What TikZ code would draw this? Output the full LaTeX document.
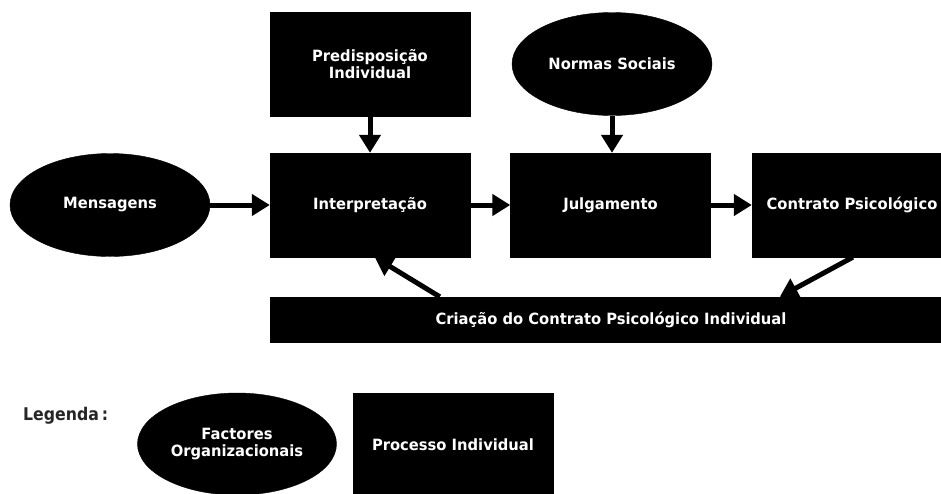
\documentclass[tikz,border=0pt]{standalone}
\usepackage{fontspec}
\setmainfont{DejaVu Sans}[FakeStretch=0.95]
\newfontfamily\legendfont{DejaVu Sans}[FakeStretch=0.9]
\usetikzlibrary{arrows.meta,shapes.geometric,calc}
\begin{document}
\begin{tikzpicture}[x=1pt,y=-1pt,
  lbl/.style={text=white,font=\bfseries\fontsize{15.5}{17}\selectfont,align=center},
  procbox/.style={lbl,rectangle,fill=black,draw=black,inner sep=0pt,minimum width=200pt,minimum height=104pt},
  factor/.style={lbl,ellipse,fill=black,draw=black,inner sep=0pt,minimum width=200pt,minimum height=103pt},
  flow/.style={line width=5pt,-{Triangle[length=18pt,width=21pt]}}]
  % canvas
  \clip (0,0) rectangle (941,493);
  \fill[white] (0,0) rectangle (941,493);

  % upper row of influences
  \node[procbox] (pred) at (370,64.5) {Predisposição\\Individual};
  \node[factor] (norm) at (612,64) {Normas Sociais};

  % main process row
  \node[factor] (msg) at (110,205) {Mensagens};
  \node[procbox] (interp) at (370,205) {Interpretação};
  \node[procbox] (julg) at (610.5,205) {Julgamento};
  \node[procbox] (contr) at (852,205) {Contrato Psicológico};

  % bottom bar
  \node[lbl,rectangle,fill=black,inner sep=0pt,minimum width=682pt,minimum height=46pt] (bar) at (611,320) {Criação do Contrato Psicológico Individual};

  % connectors
  \draw[flow] (pred) -- (interp);
  \draw[flow] (norm.south) -- (norm.south |- julg.north);
  \draw[flow] (msg.east) -- (interp.west);
  \draw[flow] (interp) -- (julg);
  \draw[flow] (julg) -- (contr);
  \draw[flow] ($(bar.north west)+(170,0)$) -- ($(interp.south west)+(105,0)$);
  \draw[flow] ($(contr.south west)+(101,0)$) -- ($(bar.north west)+(510,0)$);

  % legend
  \node[text=black!85,font=\legendfont\bfseries\fontsize{17.5}{19}\selectfont,anchor=base west,inner sep=0pt] (leg) at (23,420) {Legenda\kern3pt:};
  \node[factor,minimum width=199pt,minimum height=102pt] (legf) at (237,444) {Factores\\Organizacionais};
  \node[procbox] (legp) at (453,445) {Processo Individual};
\end{tikzpicture}
\end{document}
